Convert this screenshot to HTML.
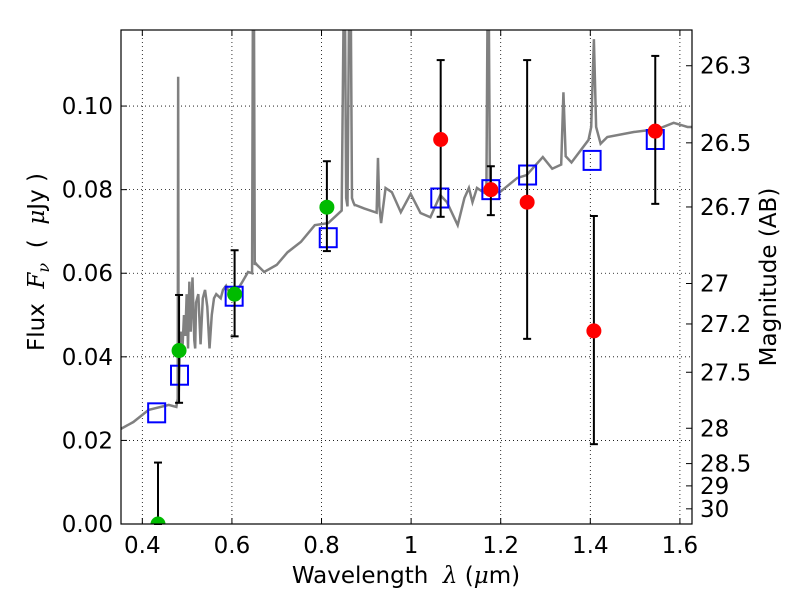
<!DOCTYPE html>
<html><head><meta charset="utf-8"><style>
body{margin:0;background:#fff;}
svg text{font-family:"DejaVu Sans","Liberation Sans",sans-serif;fill:#000;white-space:pre;}
.m{font-family:"DejaVu Serif","Liberation Serif",serif;font-style:italic;}
</style></head><body>
<svg id="chart" width="800" height="600" xmlns="http://www.w3.org/2000/svg"></svg>
<script>
const specLam=[0.3475,0.38,0.414,0.459,0.476,0.479,0.480,0.481,0.484,0.487,0.49,0.493,0.496,0.499,0.502,0.505,0.508,0.512,0.516,0.518,0.520,0.525,0.530,0.535,0.540,0.545,0.550,0.555,0.560,0.565,0.575,0.580,0.587,0.6,0.622,0.636,0.645,0.647,0.649,0.651,0.653,0.656,0.672,0.7,0.724,0.754,0.785,0.815,0.845,0.850,0.852,0.855,0.858,0.862,0.865,0.868,0.871,0.874,0.876,0.895,0.923,0.926,0.929,0.933,0.943,0.957,0.977,0.999,1.021,1.043,1.065,1.080,1.104,1.119,1.129,1.137,1.147,1.161,1.168,1.171,1.173,1.176,1.180,1.198,1.237,1.258,1.294,1.315,1.335,1.340,1.345,1.358,1.396,1.402,1.408,1.413,1.423,1.438,1.497,1.551,1.586,1.617,1.631];
const specFlux=[0.0225,0.0244,0.0273,0.0285,0.0280,0.03,0.107,0.03,0.044,0.046,0.043,0.050,0.045,0.055,0.042,0.058,0.046,0.059,0.044,0.042,0.053,0.055,0.043,0.054,0.056,0.052,0.042,0.050,0.054,0.055,0.054,0.056,0.057,0.054,0.0577,0.0603,0.060,0.13,0.13,0.062,0.0624,0.062,0.0603,0.062,0.065,0.0675,0.0715,0.072,0.075,0.13,0.13,0.078,0.076,0.13,0.13,0.078,0.077,0.0763,0.0763,0.0755,0.0745,0.0876,0.076,0.072,0.0804,0.0794,0.0746,0.079,0.0744,0.0734,0.0787,0.077,0.0715,0.078,0.0804,0.077,0.0804,0.0794,0.079,0.13,0.13,0.08,0.0794,0.0794,0.0828,0.0835,0.0878,0.085,0.086,0.1033,0.088,0.0865,0.0919,0.095,0.116,0.095,0.091,0.0926,0.0938,0.0945,0.096,0.095,0.095];
const photLam=[0.435,0.482,0.606,0.812,1.066,1.178,1.259,1.408,1.545];
const photFlux=[0.000,0.0415,0.055,0.0758,0.092,0.080,0.077,0.0462,0.094];
const errLo=[0.000,0.029,0.0449,0.0653,0.0735,0.0739,0.0443,0.0191,0.0766];
const errHi=[0.0147,0.0548,0.0655,0.0868,0.111,0.0856,0.111,0.0737,0.112];
const photColor=["#00bb00","#00bb00","#00bb00","#00bb00","#ff0000","#ff0000","#ff0000","#ff0000","#ff0000"];
const modelLam=[0.432,0.483,0.605,0.815,1.064,1.178,1.260,1.404,1.545];
const modelFlux=[0.0266,0.0356,0.0545,0.0685,0.078,0.080,0.0835,0.087,0.092];
const xTicks=[0.4,0.6,0.8,1.0,1.2,1.4,1.6];
const xTickLabels=["0.4","0.6","0.8","1","1.2","1.4","1.6"];
const yTicks=[0,0.02,0.04,0.06,0.08,0.10];
const yTickLabels=["0.00","0.02","0.04","0.06","0.08","0.10"];
const magTicks=[26.3,26.5,26.7,27,27.2,27.5,28,28.5,29,30];
const magLabels=["26.3","26.5","26.7","27","27.2","27.5","28","28.5","29","30"];

const L=121,R=692,T=30,B=524,X0=0.3524,X1=1.627,Y0=0,Y1=0.1182;
const sx=v=>L+(v-X0)/(X1-X0)*(R-L);
const sy=v=>B-(v-Y0)/(Y1-Y0)*(B-T);
const svg=document.getElementById('chart');
const NS="http://www.w3.org/2000/svg";
function mk(tag,attrs,parent){const e=document.createElementNS(NS,tag);for(const k in attrs)e.setAttribute(k,attrs[k]);(parent||svg).appendChild(e);return e;}
const defs=mk('defs',{});const cp=mk('clipPath',{id:'clip'},defs);mk('rect',{x:L,y:T,width:R-L,height:B-T},cp);

xTicks.forEach((v,i)=>{const x=sx(v);
 const g=mk('line',{x1:x,x2:x,y1:T,y2:B,stroke:'#000','stroke-dasharray':'1,3','stroke-width':0.8});
 
 mk('line',{x1:x,x2:x,y1:B,y2:B-6,stroke:'#000'});mk('line',{x1:x,x2:x,y1:T,y2:T+6,stroke:'#000'});
 const t=mk('text',{x:x,y:B+29,'text-anchor':'middle','font-size':23});t.textContent=xTickLabels[i];
 });
yTicks.forEach((v,i)=>{const y=sy(v);
 const g=mk('line',{x1:L,x2:R,y1:y,y2:y,stroke:'#000','stroke-dasharray':'1,3','stroke-width':0.8});
 
 mk('line',{x1:L,x2:L+6,y1:y,y2:y,stroke:'#000'});
 const t=mk('text',{x:L-8,y:y+8,'text-anchor':'end','font-size':23});t.textContent=yTickLabels[i];
 });
magTicks.forEach((m,i)=>{const f=Math.pow(10,(23.9-m)/2.5);const y=sy(f);
 mk('line',{x1:R,x2:R-6,y1:y,y2:y,stroke:'#000'});
 const t=mk('text',{x:R+8,y:y+8,'font-size':23});t.textContent=magLabels[i];
 });

const pl=mk('polyline',{points:specLam.map((v,i)=>sx(v)+','+sy(specFlux[i])).join(' '),fill:'none',stroke:'#808080','stroke-width':2.5,'clip-path':'url(#clip)'});


modelLam.forEach((v,i)=>{const r=mk('rect',{x:sx(v)-8.5,y:sy(modelFlux[i])-9.5,width:17,height:19,fill:'none',stroke:'#0000ff','stroke-width':2});
 });
photLam.forEach((v,i)=>{const x=sx(v);const g=mk('g',{});
 
 mk('line',{x1:x,x2:x,y1:sy(errLo[i]),y2:sy(errHi[i]),stroke:'#000','stroke-width':2},g);
 mk('line',{x1:x-4,x2:x+4,y1:sy(errLo[i]),y2:sy(errLo[i]),stroke:'#000','stroke-width':2},g);
 mk('line',{x1:x-4,x2:x+4,y1:sy(errHi[i]),y2:sy(errHi[i]),stroke:'#000','stroke-width':2},g);});
photLam.forEach((v,i)=>{const c=mk('circle',{cx:sx(v),cy:sy(photFlux[i]),r:7.5,fill:photColor[i],'clip-path':'url(#clip)'});
 });

const fr=mk('rect',{x:L,y:T,width:R-L,height:B-T,fill:'none',stroke:'#000','stroke-width':1.2});


const xl=mk('text',{x:406,y:583,'text-anchor':'middle','font-size':23});

xl.innerHTML='Wavelength\u00a0\u00a0<tspan class="m">λ</tspan>\u00a0(<tspan class="m">μ</tspan>m)';
const yl=mk('text',{x:0,y:0,'text-anchor':'middle','font-size':23,transform:'translate(44,262) rotate(-90)'});

yl.innerHTML='Flux\u00a0\u00a0<tspan class="m">F</tspan><tspan class="m" font-size="16" dy="5">ν</tspan><tspan dy="-5">\u00a0\u00a0(\u00a0\u00a0</tspan><tspan class="m">μ</tspan>Jy\u00a0)';
const ml=mk('text',{x:0,y:0,'text-anchor':'middle','font-size':23,transform:'translate(776,277) rotate(-90)'});ml.textContent='Magnitude (AB)';

</script>
</body></html>
